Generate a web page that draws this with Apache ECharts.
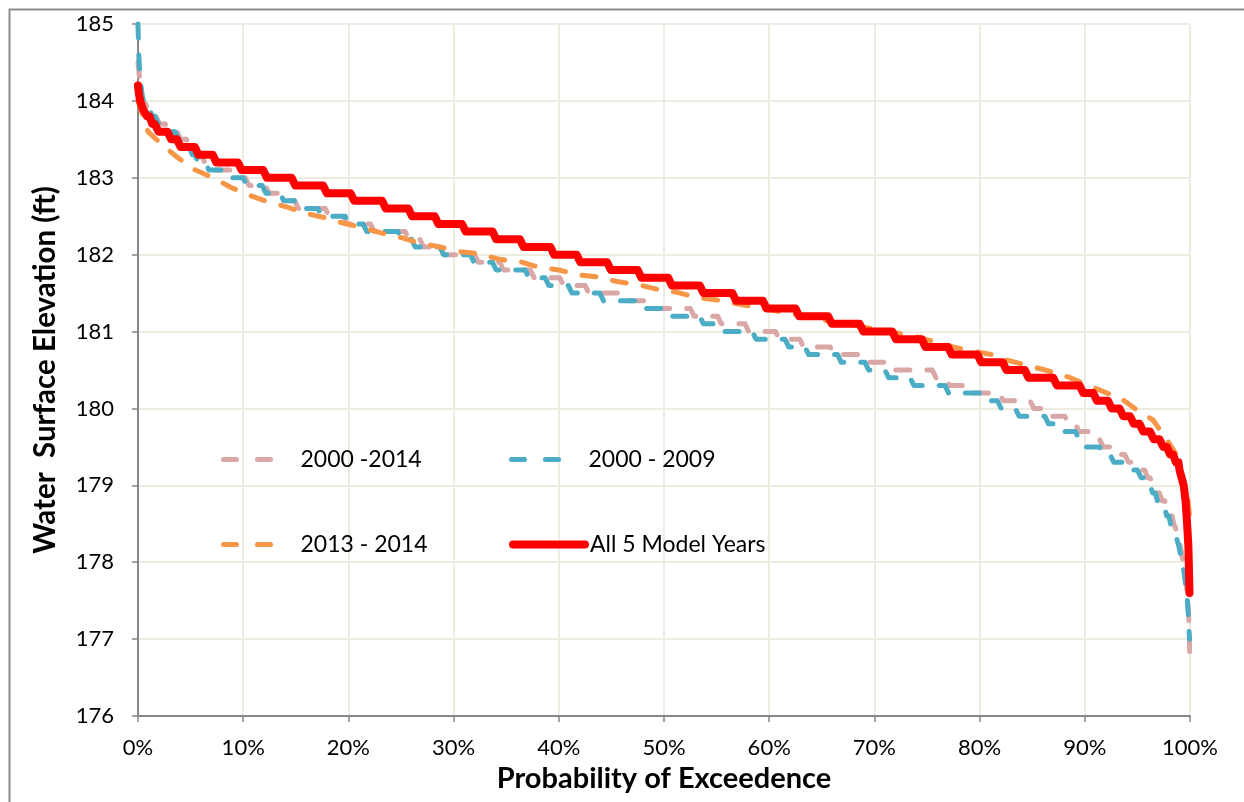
<!DOCTYPE html>
<html>
<head>
<meta charset="utf-8">
<script src="https://cdn.jsdelivr.net/npm/echarts@6/dist/echarts.min.js"></script>
<style>
  html, body { margin: 0; padding: 0; background: #fff; }
  #chart { width: 1244px; height: 802px; }
</style>
</head>
<body>
<div id="chart"></div>
<script>
// ---- Data ----
const seriesNames = ['2000 -2014', '2000 - 2009', '2013 - 2014', 'All 5 Model Years'];

// Tick values
const xTicks = [0, 10, 20, 30, 40, 50, 60, 70, 80, 90, 100];
const yTicks = [176, 177, 178, 179, 180, 181, 182, 183, 184, 185];

// All 5 Model Years: elevation levels (ft) and the exceedance probability (%) where each level ends
const redLevels = [184.2,184.1,184.0,183.9,183.8,183.7,183.6,183.5,183.4,183.3,183.2,183.1,183.0,182.9,182.8,182.7,182.6,182.5,182.4,182.3,182.2,182.1,182.0,181.9,181.8,181.7,181.6,181.5,181.4,181.3,181.2,181.1,181.0,180.9,180.8,180.7,180.6,180.5,180.4,180.3,180.2,180.1,180.0,179.9,179.8,179.7,179.6,179.5,179.4,179.3,179.2,179.1,179.0,178.8,178.5,178.2,177.6];
const redEnds = [0.05,0.1,0.3,0.6,1.1,1.6,2.8,3.7,5.4,7.1,9.5,11.9,14.6,17.6,20.2,23.2,25.7,28.2,30.8,33.7,36.3,39.2,41.7,44.6,47.5,50.4,53.4,56.5,59.4,62.5,65.6,68.6,71.7,74.5,77.0,79.8,82.2,84.3,87.0,89.5,90.8,92.2,93.3,94.3,95.2,96.2,97.1,97.8,98.4,98.9,99.1,99.3,99.5,99.65,99.8,99.9,100];

// 2000 - 2009
const blueLevels = [185.0,184.8,184.6,184.4,184.2,184.0,183.9,183.8,183.7,183.6,183.5,183.4,183.3,183.2,183.1,183.0,182.9,182.8,182.7,182.6,182.5,182.4,182.3,182.2,182.1,182.0,181.9,181.8,181.7,181.6,181.5,181.4,181.3,181.2,181.1,181.0,180.9,180.8,180.7,180.6,180.5,180.4,180.3,180.2,180.1,180.0,179.9,179.8,179.7,179.6,179.5,179.4,179.3,179.2,179.1,179.0,178.9,178.8,178.7,178.6,178.5,178.4,178.3,178.2,178.1,178.0,177.8,177.6,177.3,177.0];
const blueEnds = [0.02,0.05,0.1,0.2,0.35,0.6,1.1,1.6,2.4,3.5,4.3,4.9,5.4,6.4,8.6,10.0,11.8,13.5,15.4,17.1,19.7,21.4,24.7,26.0,28.7,31.6,33.7,36.8,38.7,40.9,43.9,47.2,50.4,53.4,55.1,58.4,61.5,63.4,66.5,69.1,71.0,73.4,76.7,80.0,81.7,83.4,86.2,87.4,89.1,89.8,91.4,92.4,94.1,95.0,95.7,96.2,96.7,97.1,97.6,98.0,98.3,98.6,98.9,99.0,99.2,99.4,99.6,99.8,99.9,100];

// 2000 -2014
const pinkLevels = [184.5,184.3,184.1,184.0,183.9,183.8,183.7,183.6,183.5,183.4,183.3,183.2,183.1,183.0,182.9,182.8,182.7,182.6,182.5,182.4,182.3,182.2,182.1,182.0,181.9,181.8,181.7,181.6,181.5,181.4,181.3,181.2,181.1,181.0,180.9,180.8,180.7,180.6,180.5,180.4,180.3,180.2,180.1,180.0,179.9,179.8,179.7,179.6,179.5,179.4,179.3,179.2,179.1,179.0,178.9,178.8,178.7,178.6,178.5,178.4,178.3,178.2,178.0,177.8,177.5,177.2,176.8];
const pinkEnds = [0.1,0.2,0.4,0.7,1.2,1.7,2.6,3.7,4.6,5.3,6.0,7.0,9.2,10.2,12.1,13.5,14.9,17.8,19.5,22.1,25.4,26.8,28.7,32.0,34.4,37.3,40.1,42.5,45.8,48.7,52.5,55.1,57.7,60.6,62.9,65.8,68.6,71.5,75.5,76.8,78.8,81.9,84.8,86.2,88.1,89.1,90.5,91.4,92.9,93.8,94.8,95.7,96.2,96.7,97.1,97.6,97.9,98.3,98.6,98.9,99.0,99.2,99.5,99.7,99.86,99.95,100];

// 2013 - 2014 (smooth curve)
const orangeProb = [0,0.95,2.28,3.80,5.32,7.13,8.75,10.46,12.26,14.16,15.87,17.78,19.49,21.39,23.19,25.10,26.81,28.71,30.61,32.51,34.32,36.31,38.02,40.02,41.73,43.73,45.53,47.53,49.33,51.24,52.95,55.04,56.56,58.65,62.5,66.25,70.25,74.05,77.47,78.80,81.18,82.60,84.79,86.22,88.40,89.83,91.92,93.35,95.25,96.48,97.81,98.57,99.24,99.71,100];
const orangeElev = [184.0,183.60,183.43,183.26,183.11,183.00,182.88,182.78,182.69,182.62,182.54,182.48,182.41,182.35,182.28,182.22,182.15,182.10,182.04,182.01,181.94,181.91,181.84,181.80,181.74,181.71,181.65,181.61,181.55,181.51,181.45,181.41,181.37,181.32,181.22,181.12,181.03,180.93,180.80,180.76,180.70,180.63,180.55,180.50,180.41,180.33,180.21,180.14,179.95,179.85,179.59,179.43,179.11,178.94,178.55];

// ---- Build series data (levels become flat runs joined by short slanted drops) ----
function stepData(levels, ends) {
  const d = [[0, levels[0]]];
  let prev = 0;
  for (let i = 0; i < levels.length; i++) {
    if (i > 0) {
      const s = Math.min(0.35, (ends[i] - prev) / 2);
      d.push([prev + s, levels[i]]);
    }
    d.push([ends[i], levels[i]]);
    prev = ends[i];
  }
  return d;
}
function pairData(xs, ys) { return xs.map((x, i) => [x, ys[i]]); }

const FONT = 'Lato, "Open Sans", sans-serif';
const C_PINK = '#D9A7A6', C_BLUE = '#4BACC6', C_ORANGE = '#F79646', C_RED = '#FF0000';
const dash = [14, 17];

function legendFor(name, left, top, w, pad, color, dashed) {
  return {
    data: [name], left: left, top: top, itemWidth: w, itemHeight: 16, padding: 0,
    itemStyle: { opacity: 0 },
    lineStyle: { color: color, width: dashed ? 5 : 8, type: dashed ? [13, 21] : 'solid', cap: 'round' },
    textStyle: { fontFamily: FONT, fontSize: 23, color: '#000', padding: [0, 0, 0, pad] },
    selectedMode: false
  };
}

const chart = echarts.init(document.getElementById('chart'), null, { renderer: 'canvas' });
chart.setOption({
  animation: false,
  backgroundColor: '#fff',
  graphic: [{
    type: 'rect', left: 7, top: 7, silent: true,
    shape: { x: 0, y: 0, width: 1300, height: 900 },
    style: { fill: 'none', stroke: '#8c8c8c', lineWidth: 2 }
  }],
  grid: { left: 138, right: 54, top: 24, bottom: 86, containLabel: false },
  legend: [
    legendFor(seriesNames[0], 221, 448, 52, 20, C_PINK, true),
    legendFor(seriesNames[1], 509, 448, 52, 20, C_BLUE, true),
    legendFor(seriesNames[2], 221, 533, 52, 20, C_ORANGE, true),
    legendFor(seriesNames[3], 509, 533, 72, 0, C_RED, false)
  ],
  xAxis: {
    type: 'value', min: 0, max: 100, interval: 10,
    name: 'Probability of Exceedence', nameLocation: 'middle', nameGap: 48,
    nameTextStyle: { fontFamily: FONT, fontSize: 29, fontWeight: 'bold', color: '#000' },
    axisLine: { show: true, lineStyle: { color: '#868686', width: 2 } },
    axisTick: { show: true, length: 6, lineStyle: { color: '#868686', width: 1.5 } },
    axisLabel: { fontFamily: FONT, fontSize: 22, color: '#000', margin: 21, formatter: '{value}%' },
    splitLine: { show: true, lineStyle: { color: '#EEECE1', width: 2 } }
  },
  yAxis: {
    type: 'value', min: 176, max: 185, interval: 1,
    name: 'Water  Surface Elevation (ft)', nameLocation: 'middle', nameGap: 78,
    nameTextStyle: { fontFamily: FONT, fontSize: 29.5, fontWeight: 'bold', color: '#000' },
    axisLine: { show: true, onZero: false, lineStyle: { color: '#868686', width: 2 } },
    axisTick: { show: true, length: 6, lineStyle: { color: '#868686', width: 1.5 } },
    axisLabel: { fontFamily: FONT, fontSize: 22, color: '#000', margin: 24 },
    splitLine: { show: true, lineStyle: { color: '#EEECE1', width: 2 } }
  },
  series: [
    { name: seriesNames[0], type: 'line', symbol: 'none', data: stepData(pinkLevels, pinkEnds),
      itemStyle: { color: C_PINK }, lineStyle: { color: C_PINK, width: 5, type: dash, cap: 'round', join: 'round' } },
    { name: seriesNames[1], type: 'line', symbol: 'none', data: stepData(blueLevels, blueEnds),
      itemStyle: { color: C_BLUE }, lineStyle: { color: C_BLUE, width: 5, type: dash, cap: 'round', join: 'round' } },
    { name: seriesNames[2], type: 'line', symbol: 'none', data: pairData(orangeProb, orangeElev),
      itemStyle: { color: C_ORANGE }, lineStyle: { color: C_ORANGE, width: 5, type: dash, cap: 'round', join: 'round' } },
    { name: seriesNames[3], type: 'line', symbol: 'none', data: stepData(redLevels, redEnds),
      itemStyle: { color: C_RED }, lineStyle: { color: C_RED, width: 8, cap: 'round', join: 'round' } }
  ]
});
</script>
</body>
</html>
